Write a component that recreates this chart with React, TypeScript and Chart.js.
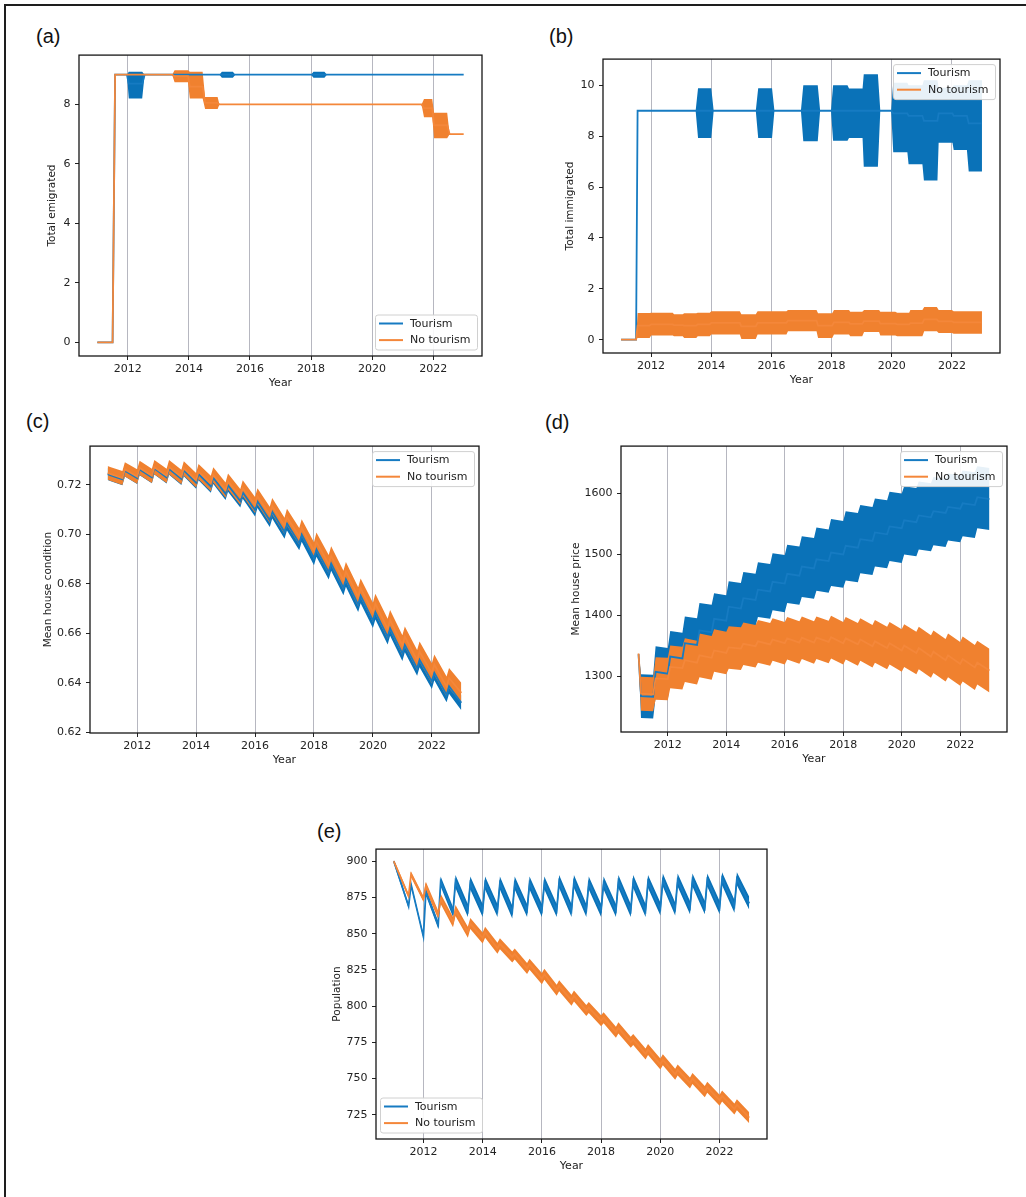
import React, { useEffect, useRef } from 'react';
import { Chart, registerables } from 'chart.js';

Chart.register(...registerables);

const FONT = "'DejaVu Sans', 'Liberation Sans', Arial, sans-serif";
const BLUE_FILL = '#0a72b8';
const BLUE_LINE = '#167bc2';
const ORANGE_FILL = '#f0812f';
const ORANGE_LINE = '#f4873a';
const INK = '#222222';

const seriesNames = ['Tourism', 'No tourism'];
const xTicks = [2012, 2014, 2016, 2018, 2020, 2022];
const xRange = [2010.4, 2023.6];

// ---------- (a) Total emigrated : piecewise segments ----------
const aYTicks = [0, 2, 4, 6, 8];
const aTourStart = [2011, 2011.583, 2012.03, 2012.55, 2015.08, 2015.52, 2018.08, 2018.52];
const aTourEnd = [2011.5, 2011.97, 2012.47, 2015.0, 2015.44, 2018.0, 2018.44, 2023];
const aTourMean = [0, 9, 8.7, 9, 9, 9, 9, 9];
const aTourLo = [0, 9, 8.2, 9, 8.9, 9, 8.9, 9];
const aTourHi = [0, 9, 9.1, 9, 9.1, 9, 9.1, 9];
const aNoStart = [2011, 2011.583, 2013.53, 2014.03, 2014.53, 2015.0, 2021.7, 2022.03, 2022.54];
const aNoEnd = [2011.5, 2013.45, 2013.97, 2014.45, 2014.94, 2021.62, 2021.97, 2022.46, 2023];
const aNoMean = [0, 9, 8.95, 8.6, 8.05, 8, 7.88, 7.3, 7];
const aNoLo = [0, 9, 8.75, 8.2, 7.85, 8, 7.57, 6.86, 7];
const aNoHi = [0, 9, 9.15, 9.1, 8.25, 8, 8.18, 7.72, 7];

// ---------- (b) Total immigrated : piecewise segments ----------
const bYTicks = [0, 2, 4, 6, 8, 10];
const bTourStart = [2011, 2011.55, 2013.56, 2014.08, 2015.56, 2016.1, 2017.06, 2017.62, 2018.05, 2018.58, 2019.07, 2019.62, 2020.05, 2020.56, 2021.07, 2021.56, 2022.06, 2022.56];
const bTourEnd = [2011.5, 2013.48, 2014.0, 2015.48, 2016.02, 2016.98, 2017.54, 2017.98, 2018.53, 2019.03, 2019.54, 2019.98, 2020.52, 2021.02, 2021.52, 2022.02, 2022.5, 2023.0];
const bTourMean = [0, 9, 9, 9, 9, 9, 9, 9, 9, 9, 9, 9, 8.9, 8.8, 8.6, 8.9, 8.8, 8.5];
const bTourLo = [0, 9, 7.93, 9, 7.93, 9, 7.8, 9, 7.82, 7.93, 6.8, 9, 7.37, 6.9, 6.26, 7.74, 7.46, 6.61];
const bTourHi = [0, 9, 9.88, 9, 9.88, 9, 10.0, 9, 10.0, 9.87, 10.43, 9, 10.1, 10.0, 10.2, 9.9, 10.0, 10.2];
const bNoStart = [2011, 2011.55, 2012.0, 2012.76, 2013.1, 2013.55, 2014.0, 2015.0, 2015.54, 2016.55, 2017.55, 2018.08, 2018.62, 2019.08, 2019.62, 2020.18, 2020.62, 2021.08, 2021.56, 2022.06];
const bNoEnd = [2011.5, 2011.95, 2012.72, 2013.05, 2013.5, 2013.95, 2014.95, 2015.48, 2016.5, 2017.5, 2018.02, 2018.58, 2019.02, 2019.58, 2020.12, 2020.58, 2021.02, 2021.5, 2022.0, 2023.0];
const bNoMean = [0, 0.55, 0.6, 0.57, 0.55, 0.6, 0.66, 0.52, 0.66, 0.75, 0.55, 0.68, 0.62, 0.73, 0.63, 0.6, 0.65, 0.8, 0.72, 0.68];
const bNoLo = [0, 0.06, 0.16, 0.13, 0.06, 0.13, 0.2, 0.03, 0.2, 0.33, 0.06, 0.2, 0.13, 0.3, 0.16, 0.13, 0.13, 0.33, 0.26, 0.23];
const bNoHi = [0, 1.05, 1.06, 1.0, 1.04, 1.06, 1.12, 1.0, 1.12, 1.17, 1.04, 1.17, 1.1, 1.17, 1.1, 1.06, 1.17, 1.28, 1.17, 1.12];

// ---------- half-yearly sawtooth panels (c), (d), (e) ----------
const halfYears = [2011, 2011.5, 2012, 2012.5, 2013, 2013.5, 2014, 2014.5, 2015, 2015.5, 2016, 2016.5, 2017, 2017.5, 2018, 2018.5, 2019, 2019.5, 2020, 2020.5, 2021, 2021.5, 2022, 2022.5];

// (c) Mean house condition
const cYTicks = [0.62, 0.64, 0.66, 0.68, 0.70, 0.72];
const cTourStart = 0.7244;
const cTourStartHW = 0.0024;
const cTourPeak = [0.7240, 0.7258, 0.7263, 0.7266, 0.7265, 0.7259, 0.7244, 0.7229, 0.7199, 0.7170, 0.7134, 0.7092, 0.7045, 0.7000, 0.6940, 0.6883, 0.6819, 0.6752, 0.6687, 0.6621, 0.6554, 0.6494, 0.6441, 0.6387];
const cTourTrough = [0.7223, 0.7228, 0.7231, 0.7230, 0.7224, 0.7209, 0.7194, 0.7164, 0.7135, 0.7099, 0.7057, 0.7010, 0.6965, 0.6905, 0.6848, 0.6784, 0.6717, 0.6652, 0.6586, 0.6519, 0.6459, 0.6406, 0.6352, 0.6320];
const cTourHW = [0.0024, 0.0024, 0.0024, 0.0024, 0.0024, 0.0024, 0.0025, 0.0025, 0.0026, 0.0026, 0.0027, 0.0027, 0.0029, 0.0029, 0.003, 0.003, 0.003, 0.003, 0.003, 0.003, 0.003, 0.003, 0.003, 0.003];
const cNoStart = 0.7249;
const cNoStartHW = 0.0028;
const cNoPeak = [0.7245, 0.7263, 0.7269, 0.7272, 0.7272, 0.7267, 0.7254, 0.7241, 0.7214, 0.7187, 0.7154, 0.7114, 0.7070, 0.7027, 0.6970, 0.6914, 0.6850, 0.6783, 0.6720, 0.6654, 0.6587, 0.6527, 0.6474, 0.6420];
const cNoTrough = [0.7228, 0.7234, 0.7237, 0.7237, 0.7232, 0.7219, 0.7206, 0.7179, 0.7152, 0.7119, 0.7079, 0.7035, 0.6992, 0.6935, 0.6879, 0.6815, 0.6748, 0.6685, 0.6619, 0.6552, 0.6492, 0.6439, 0.6385, 0.6360];
const cNoHW = [0.0028, 0.0029, 0.0029, 0.0029, 0.0029, 0.0029, 0.0031, 0.0031, 0.0032, 0.0032, 0.0033, 0.0033, 0.0034, 0.0034, 0.0038, 0.0038, 0.0039, 0.0039, 0.0041, 0.0041, 0.0041, 0.0041, 0.0041, 0.0041];

// (d) Mean house price
const dYTicks = [1300, 1400, 1500, 1600];
const dTourStart = 1336;
const dTourStartHW = 2;
const dTourPeak = [1267, 1307, 1332, 1354, 1375, 1394, 1414, 1428, 1442, 1455, 1468, 1480, 1492, 1503, 1514, 1525, 1536, 1546, 1556, 1564, 1571, 1578, 1584, 1594];
const dTourTrough = [1266, 1304, 1329, 1351, 1372, 1391, 1411, 1425, 1439, 1452, 1465, 1477, 1489, 1500, 1511, 1522, 1533, 1543, 1553, 1561, 1568, 1575, 1581, 1591];
const dTourHW = [36, 42, 42, 44, 45, 42, 42, 43, 45, 47, 48, 50, 52, 55, 57, 56, 56, 57, 56, 56, 56, 55, 54, 51];
const dNoStart = 1337;
const dNoStartHW = 2;
const dNoPeak = [1271, 1296, 1315, 1326, 1334, 1342, 1347, 1353, 1357, 1360, 1362, 1363, 1363, 1364, 1362, 1360, 1357, 1354, 1350, 1346, 1340, 1334, 1328, 1322];
const dNoTrough = [1270, 1295, 1313, 1322, 1330, 1338, 1345, 1349, 1352, 1354, 1355, 1355, 1356, 1354, 1352, 1349, 1346, 1342, 1338, 1332, 1326, 1320, 1314, 1309];
const dNoHW = [28, 35, 35, 36, 36, 35, 35, 35, 35, 35, 35, 35, 35, 35, 35, 35, 35, 35, 35, 35, 35, 36, 37, 36];

// (e) Population
const eYTicks = [725, 750, 775, 800, 825, 850, 875, 900];
const eTourStart = 900;
const eTourStartHW = 1;
const eTourPeak = [895, 884, 879, 886, 886, 885, 885, 885, 885, 885, 885, 886, 886, 885, 885, 886, 886, 886, 887, 887, 887, 887, 888, 888];
const eTourTrough = [869, 848, 856, 865, 866, 866, 866, 865, 866, 866, 866, 866, 866, 866, 866, 866, 866, 867, 867, 868, 868, 868, 869, 871];
const eTourHW = [1.5, 1.2, 2.5, 3.5, 4.5, 4.5, 4.5, 4.5, 4.5, 4.5, 4.5, 4.5, 4.5, 4.5, 4.5, 4.5, 4.5, 4.5, 4.5, 4.5, 4.5, 4.5, 4.5, 4.5];
const eNoStart = 900;
const eNoStartHW = 1;
const eNoPeak = [896, 891, 883, 874, 866, 857, 851, 843, 836, 829, 822, 814, 807, 799, 792, 785, 777, 770, 763, 756, 750, 744, 738, 732];
const eNoTrough = [876, 874, 863, 858, 851, 847, 840, 834, 826, 819, 811, 804, 797, 790, 782, 775, 767, 760, 753, 747, 741, 735, 729, 723];
const eNoHW = [1.5, 2, 2.8, 3.5, 3.8, 3.8, 3.8, 3.8, 3.8, 3.8, 3.8, 3.8, 3.8, 3.8, 3.8, 3.8, 3.8, 3.8, 3.8, 3.8, 3.8, 3.8, 3.8, 3.8];

// ---------- builders ----------
type Pt = { x: number; y: number };
type Band = { mean: Pt[]; lo: Pt[]; hi: Pt[] };

function segBand(starts: number[], ends: number[], mean: number[], lo: number[], hi: number[]): Band {
  const mk = (vals: number[]) => {
    const pts: Pt[] = [];
    starts.forEach((s, i) => {
      pts.push({ x: s, y: vals[i] });
      pts.push({ x: ends[i], y: vals[i] });
    });
    return pts;
  };
  return { mean: mk(mean), lo: mk(lo), hi: mk(hi) };
}

const PEAK_LAG = 1 / 12;
function sawBand(start: number, startHW: number, peak: number[], trough: number[], hw: number[]): Band {
  const mean: Pt[] = [{ x: halfYears[0], y: start }];
  const lo: Pt[] = [{ x: halfYears[0], y: start - startHW }];
  const hi: Pt[] = [{ x: halfYears[0], y: start + startHW }];
  halfYears.forEach((t, i) => {
    mean.push({ x: t + PEAK_LAG, y: peak[i] });
    lo.push({ x: t + PEAK_LAG, y: peak[i] - hw[i] });
    hi.push({ x: t + PEAK_LAG, y: peak[i] + hw[i] });
    mean.push({ x: t + 0.5, y: trough[i] });
    lo.push({ x: t + 0.5, y: trough[i] - hw[i] });
    hi.push({ x: t + 0.5, y: trough[i] + hw[i] });
  });
  return { mean, lo, hi };
}

type Panel = {
  key: string;
  letter: string;
  letterPos: [number, number];
  box: { l: number; t: number; r: number; b: number };
  yMin: number;
  yMax: number;
  yTicks: number[];
  yDecimals: number;
  yTitle: string;
  yTitleOff: number;
  legend: 'lr' | 'ur' | 'll';
  tour: Band;
  no: Band;
};

const panels: Panel[] = [
  {
    key: 'a', letter: '(a)', letterPos: [36, 26],
    box: { l: 79, t: 54, r: 482, b: 356 },
    yMin: -0.46, yMax: 9.66, yTicks: aYTicks, yDecimals: 0,
    yTitle: 'Total emigrated', yTitleOff: 27, legend: 'lr',
    tour: segBand(aTourStart, aTourEnd, aTourMean, aTourLo, aTourHi),
    no: segBand(aNoStart, aNoEnd, aNoMean, aNoLo, aNoHi),
  },
  {
    key: 'b', letter: '(b)', letterPos: [549, 26],
    box: { l: 603, t: 58, r: 1000, b: 353 },
    yMin: -0.525, yMax: 11.03, yTicks: bYTicks, yDecimals: 0,
    yTitle: 'Total immigrated', yTitleOff: 33, legend: 'ur',
    tour: segBand(bTourStart, bTourEnd, bTourMean, bTourLo, bTourHi),
    no: segBand(bNoStart, bNoEnd, bNoMean, bNoLo, bNoHi),
  },
  {
    key: 'c', letter: '(c)', letterPos: [26, 411],
    box: { l: 90, t: 445, r: 479, b: 733 },
    yMin: 0.6198, yMax: 0.7357, yTicks: cYTicks, yDecimals: 2,
    yTitle: 'Mean house condition', yTitleOff: 42, legend: 'ur',
    tour: sawBand(cTourStart, cTourStartHW, cTourPeak, cTourTrough, cTourHW),
    no: sawBand(cNoStart, cNoStartHW, cNoPeak, cNoTrough, cNoHW),
  },
  {
    key: 'd', letter: '(d)', letterPos: [545, 412],
    box: { l: 621, t: 445, r: 1007, b: 732 },
    yMin: 1208, yMax: 1678, yTicks: dYTicks, yDecimals: 0,
    yTitle: 'Mean house price', yTitleOff: 45, legend: 'ur',
    tour: sawBand(dTourStart, dTourStartHW, dTourPeak, dTourTrough, dTourHW),
    no: sawBand(dNoStart, dNoStartHW, dNoPeak, dNoTrough, dNoHW),
  },
  {
    key: 'e', letter: '(e)', letterPos: [317, 821],
    box: { l: 376, t: 848, r: 767, b: 1139 },
    yMin: 708.3, yMax: 908.4, yTicks: eYTicks, yDecimals: 0,
    yTitle: 'Population', yTitleOff: 39, legend: 'll',
    tour: sawBand(eTourStart, eTourStartHW, eTourPeak, eTourTrough, eTourHW),
    no: sawBand(eNoStart, eNoStartHW, eNoPeak, eNoTrough, eNoHW),
  },
];

// layout constants for each canvas
const AXW = 60;
const AXH = 40;
const PT = 10;
const PR = 10;

const mplPlugin = {
  id: 'mplDecor',
  afterDatasetsDraw(chart: any, _args: any, opts: any) {
    const { ctx, chartArea: a } = chart;
    ctx.save();
    ctx.strokeStyle = '#161616';
    ctx.lineWidth = 1.3;
    ctx.strokeRect(a.left, a.top, a.right - a.left, a.bottom - a.top);

    const pos: string = opts.pos || 'ur';
    const w = 102;
    const h = 35;
    const x0 = pos.includes('r') ? a.right - 5 - w : a.left + 4;
    const y0 = pos.includes('u') ? a.top + 5 : a.bottom - 6.5 - h;
    ctx.beginPath();
    if (ctx.roundRect) ctx.roundRect(x0 + 0.5, y0 + 0.5, w, h, 2.5);
    else ctx.rect(x0 + 0.5, y0 + 0.5, w, h);
    ctx.fillStyle = 'rgba(255,255,255,0.9)';
    ctx.fill();
    ctx.strokeStyle = '#d0d0d0';
    ctx.lineWidth = 1;
    ctx.stroke();
    const colors = [BLUE_LINE, ORANGE_LINE];
    seriesNames.forEach((name, i) => {
      const yy = y0 + 9 + i * 16.6;
      ctx.strokeStyle = colors[i];
      ctx.lineWidth = 2;
      ctx.beginPath();
      ctx.moveTo(x0 + 4, yy);
      ctx.lineTo(x0 + 28, yy);
      ctx.stroke();
      ctx.fillStyle = INK;
      ctx.font = `11px ${FONT}`;
      ctx.textBaseline = 'middle';
      ctx.textAlign = 'left';
      ctx.fillText(name, x0 + 35, yy + 0.5);
    });
    ctx.restore();
  },
};

const NONE = 'rgba(0,0,0,0)';

function PanelChart({ p }: { p: Panel }) {
  const ref = useRef<HTMLCanvasElement | null>(null);
  const cw = AXW + (p.box.r - p.box.l) + PR;
  const ch = PT + (p.box.b - p.box.t) + AXH;
  useEffect(() => {
    if (!ref.current) return;
    const chart = new Chart(ref.current, {
      type: 'line',
      data: {
        datasets: [
          { label: seriesNames[1], data: p.no.mean, borderColor: ORANGE_LINE, borderWidth: 1.8, fill: false, pointRadius: 0 },
          { label: seriesNames[0], data: p.tour.mean, borderColor: BLUE_LINE, borderWidth: 1.8, fill: false, pointRadius: 0 },
          { label: 'no-hi', data: p.no.hi, borderColor: NONE, borderWidth: 0, backgroundColor: ORANGE_FILL, fill: 3, pointRadius: 0 },
          { label: 'no-lo', data: p.no.lo, borderColor: NONE, borderWidth: 0, fill: false, pointRadius: 0 },
          { label: 'tour-hi', data: p.tour.hi, borderColor: NONE, borderWidth: 0, backgroundColor: BLUE_FILL, fill: 5, pointRadius: 0 },
          { label: 'tour-lo', data: p.tour.lo, borderColor: NONE, borderWidth: 0, fill: false, pointRadius: 0 },
        ] as any,
      },
      options: {
        animation: false,
        responsive: false,
        devicePixelRatio: 1,
        events: [],
        layout: { padding: { left: 0, top: PT, right: PR, bottom: 0 } },
        elements: { point: { radius: 0 }, line: { tension: 0 } },
        plugins: {
          legend: { display: false },
          tooltip: { enabled: false },
          mplDecor: { pos: p.legend },
        } as any,
        scales: {
          x: {
            type: 'linear',
            min: xRange[0],
            max: xRange[1],
            afterBuildTicks: (s: any) => { s.ticks = xTicks.map((v) => ({ value: v })); },
            afterFit: (s: any) => { s.height = AXH; },
            ticks: {
              callback: (v: any) => String(v),
              font: { family: FONT, size: 11 },
              color: INK,
              padding: 3,
              maxRotation: 0,
              autoSkip: false,
            },
            grid: { color: '#b6b7c0', lineWidth: 1, drawTicks: true, tickLength: 4, tickColor: INK },
            border: { display: false },
            title: {
              display: true,
              text: 'Year',
              font: { family: FONT, size: 11 },
              color: INK,
              padding: { top: 0, bottom: 6.4 },
            },
          },
          y: {
            type: 'linear',
            min: p.yMin,
            max: p.yMax,
            afterBuildTicks: (s: any) => { s.ticks = p.yTicks.map((v) => ({ value: v })); },
            afterFit: (s: any) => { s.width = AXW; },
            ticks: {
              callback: (v: any) => Number(v).toFixed(p.yDecimals),
              font: { family: FONT, size: 11 },
              color: INK,
              padding: 4.5,
              autoSkip: false,
            },
            grid: { drawOnChartArea: false, drawTicks: true, tickLength: 4, tickColor: INK, color: INK },
            border: { display: false },
            title: {
              display: true,
              text: p.yTitle,
              font: { family: FONT, size: 10.5 },
              color: INK,
              padding: { top: AXW - p.yTitleOff - 6.3, bottom: 0 },
            },
          },
        } as any,
      },
      plugins: [mplPlugin as any],
    });
    return () => chart.destroy();
  }, []);
  return (
    <canvas
      ref={ref}
      width={cw}
      height={ch}
      style={{ position: 'absolute', left: p.box.l - AXW, top: p.box.t - PT, width: cw, height: ch }}
    />
  );
}

export default function App() {
  return (
    <div style={{ position: 'absolute', left: 0, top: 0, width: 1026, height: 1197, overflow: 'hidden', background: '#fff' }}>
      <div
        style={{
          position: 'absolute', left: 4, top: 4, width: 1022, height: 1193, boxSizing: 'border-box',
          borderTop: '2px solid #1e1e1e', borderLeft: '2px solid #1e1e1e',
        }}
      />
      {panels.map((p) => (
        <React.Fragment key={p.key}>
          <div
            style={{
              position: 'absolute', left: p.letterPos[0], top: p.letterPos[1],
              fontFamily: "'Liberation Sans', Arial, sans-serif", fontSize: 20, lineHeight: '20px', color: '#111',
              whiteSpace: 'nowrap',
            }}
          >
            {p.letter}
          </div>
          <PanelChart p={p} />
        </React.Fragment>
      ))}
    </div>
  );
}
